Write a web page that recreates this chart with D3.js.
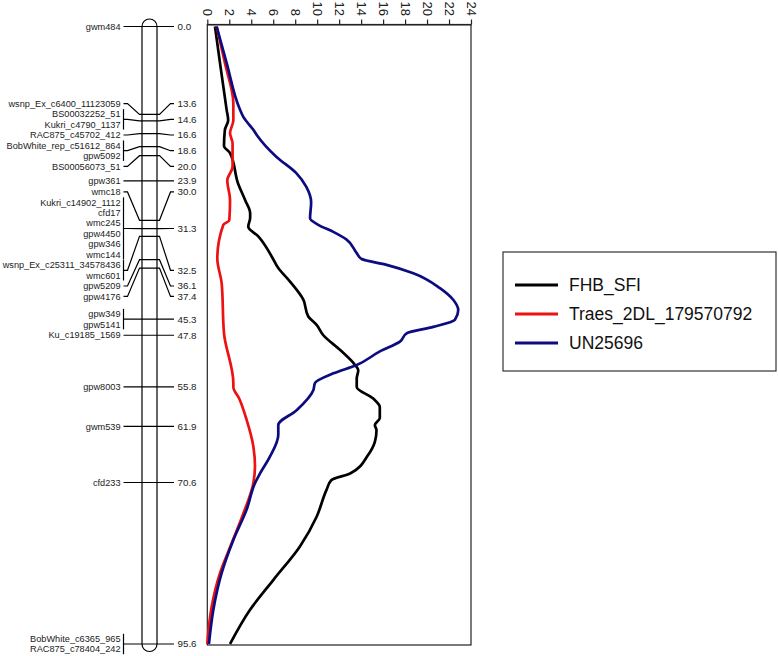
<!DOCTYPE html>
<html><head><meta charset="utf-8">
<script src="https://cdn.jsdelivr.net/npm/d3@7"></script>
<style>
body{margin:0;background:#fff}
text{font-family:"Liberation Sans",Arial,Helvetica,sans-serif}
</style>
</head><body>
<svg id="chart" width="778" height="656"></svg>
<script>
// ---------- DATA ----------
const markerPositions = [0.0, 13.6, 14.6, 16.6, 18.6, 20.0, 23.9, 30.0, 31.3, 32.5, 36.1, 37.4, 45.3, 47.8, 55.8, 61.9, 70.6, 95.6];
const markerPositionLabels = ["0.0","13.6","14.6","16.6","18.6","20.0","23.9","30.0","31.3","32.5","36.1","37.4","45.3","47.8","55.8","61.9","70.6","95.6"];
const markerNames = [
  ["gwm484"],
  ["wsnp_Ex_c6400_11123059"],
  ["BS00032252_51","Kukri_c4790_1137"],
  ["RAC875_c45702_412"],
  ["BobWhite_rep_c51612_864","gpw5092"],
  ["BS00056073_51"],
  ["gpw361"],
  ["wmc18"],
  ["Kukri_c14902_1112","cfd17","wmc245","gpw4450","gpw346","wmc144"],
  ["wsnp_Ex_c25311_34578436","wmc601"],
  ["gpw5209"],
  ["gpw4176"],
  ["gpw349","gpw5141"],
  ["Ku_c19185_1569"],
  ["gpw8003"],
  ["gwm539"],
  ["cfd233"],
  ["BobWhite_c6365_965","RAC875_c78404_242"]
];
const lodTicks = [0,2,4,6,8,10,12,14,16,18,20,22,24];
const seriesNames = ["FHB_SFI","Traes_2DL_179570792","UN25696"];
// [cM, LOD]
const fhbSFI = [[0,0.7],[5.7,1.16],[12.9,1.76],[14.5,1.9],[16,1.6],[18.5,1.52],[19.6,2.07],[24.3,2.8],[26.9,3.45],[28.9,3.9],[29.6,3.9],[31,3.73],[32.5,4.64],[35.6,5.86],[37.4,6.46],[39.5,7.53],[42.3,8.74],[44.9,9.19],[46.2,9.95],[47.8,10.56],[50.1,12.1],[52.4,13.44],[53.2,13.74],[54.5,13.6],[55.8,13.6],[57.6,15.1],[58.9,15.7],[60.6,15.7],[61.7,15.25],[62.5,15.4],[64.3,15.25],[66.3,14.65],[69.2,13.0],[70.2,11.3],[71.7,10.86],[75.9,9.95],[80.5,8.43],[85.7,6.0],[90.3,3.89],[95.6,2.07]];
const traes2DL = [[0,0.85],[5.7,1.61],[11.9,2.37],[14.5,2.37],[16.5,2.07],[18.1,2.3],[21.7,2.3],[23.8,1.82],[26.9,2.07],[30,2.0],[30.7,1.46],[35.9,0.91],[39.8,1.31],[47.5,1.52],[55.2,2.37],[55.8,2.37],[57.6,2.9],[60.9,3.58],[65,4.19],[68.1,4.34],[70.7,4.19],[75.4,3.28],[80,2.22],[84.6,1.16],[89.8,0.4],[95.6,0.0]];
const un25696 = [[0,0.85],[5.7,1.77],[12.9,2.98],[14,3.28],[16,4.19],[16.8,4.5],[20.2,6.3],[22.7,8.1],[24.8,9.0],[27.2,9.45],[29.7,9.35],[30.7,10.1],[31.8,11.47],[33,12.68],[35.1,13.6],[36,14.05],[36.9,16.32],[38.2,18.75],[40.5,21.17],[42.3,22.38],[43.9,22.84],[45.4,22.54],[46.5,20.57],[47.5,18.14],[48.8,17.53],[50.3,15.71],[52.4,13.6],[53.7,11.47],[55.2,9.8],[56.3,9.65],[59.4,8.13],[61.7,6.46],[63.2,6.46],[66.6,5.7],[69.2,4.8],[70.7,4.34],[74.8,3.58],[79.5,2.37],[84.6,1.31],[90.3,0.55],[95.6,0.15]];
const seriesColors = ["#000000","#ee1111","#0c0c80"];

// ---------- LAYOUT ----------
const svg = d3.select("#chart");
const y = d3.scaleLinear().domain([0, 95.6]).range([26.5, 644]);
const x = d3.scaleLinear().domain([0, 24]).range([207.3, 471]);

const GAP = 10.45;
// label collision layout (cluster merging, centred on extent of targets)
let blocks = markerPositions.map((p,i)=>({groups:[i], n:markerNames[i].length, lo:y(p), hi:y(p)}));
function place(b){ const c=(b.lo+b.hi)/2; b.top=c-(b.n-1)*GAP/2; b.bottom=c+(b.n-1)*GAP/2; }
blocks.forEach(place);
let changed = true;
while(changed){
  changed=false;
  const nb=[]; let cur=null;
  blocks.forEach(b=>{
    if(cur && b.top < cur.bottom + GAP - 0.001){
      cur.groups=cur.groups.concat(b.groups); cur.n+=b.n; cur.hi=b.hi;
      cur.bottom=Math.max(cur.bottom,b.bottom); changed=true;
    } else { cur={...b, groups:b.groups.slice()}; nb.push(cur); }
  });
  nb.forEach(place);
  blocks=nb;
}
const labelY = markerNames.map(n=>[]);
blocks.forEach(b=>{
  let k=0;
  b.groups.forEach(g=>{ markerNames[g].forEach(()=>{ labelY[g].push(b.top+k*GAP); k++; }); });
});
const groupCenter = labelY.map(a=>(a[0]+a[a.length-1])/2);

// ---------- CHROMOSOME ----------
const chrL=142, chrR=157;
const g = svg.append("g");
g.append("rect").attr("x",chrL).attr("y",y(0)-7.5).attr("width",chrR-chrL)
 .attr("height",y(95.6)-y(0)+15).attr("rx",7.5).attr("ry",7.5)
 .attr("fill","#fff").attr("stroke","#000").attr("stroke-width",1.2);

markerPositions.forEach((p,i)=>{
  const py=y(p), cy=groupCenter[i];
  g.append("path")
   .attr("d",`M123.5,${cy}H127.5L139.5,${py}H159.5L170.5,${cy}H174`)
   .attr("fill","none").attr("stroke","#000").attr("stroke-width",1.2);
  if(markerNames[i].length>1){
    const ys=labelY[i];
    g.append("line").attr("x1",123.5).attr("x2",123.5)
     .attr("y1",ys[0]-5).attr("y2",ys[ys.length-1]+5)
     .attr("stroke","#000").attr("stroke-width",1.2);
  }
  markerNames[i].forEach((nm,k)=>{
    g.append("text").attr("x",120.5).attr("y",labelY[i][k]).attr("dy","0.35em")
     .attr("text-anchor","end").attr("font-size","9.2px").attr("fill","#222").text(nm);
  });
  g.append("text").attr("x",177.5).attr("y",cy).attr("dy","0.35em")
   .attr("font-size","9.8px").attr("fill","#222").text(markerPositionLabels[i]);
});

// ---------- PLOT ----------
const top0=24.5, bot0=645;
svg.append("rect").attr("x",x(0)).attr("y",top0).attr("width",x(24)-x(0)).attr("height",bot0-top0)
 .attr("fill","none").attr("stroke","#222").attr("stroke-width",1.2);

const ax = svg.append("g").attr("transform",`translate(0,${top0})`)
 .call(d3.axisTop(x).tickValues(lodTicks).tickSize(5).tickSizeOuter(0).tickFormat(d3.format("d")));
ax.select(".domain").attr("stroke","#222").attr("stroke-width",1.2);
ax.selectAll(".tick line").attr("stroke","#222").attr("stroke-width",1.2);
ax.selectAll(".tick text")
 .attr("font-size","13px").attr("fill","#222")
 .attr("font-family","'Liberation Sans',Arial,sans-serif")
 .attr("text-anchor","end").attr("x",0).attr("y",0).attr("dy","0.35em")
 .attr("transform","translate(0,-8.5) rotate(90)");

const line = d3.line().x(d=>x(d[1])).y(d=>y(d[0])).curve(d3.curveMonotoneY);
[fhbSFI, traes2DL, un25696].forEach((s,i)=>{
  svg.append("path").datum(s).attr("d",line).attr("fill","none")
   .attr("stroke",seriesColors[i]).attr("stroke-width",2.7).attr("stroke-linejoin","round");
});

// ---------- LEGEND ----------
const lg = svg.append("g");
lg.append("rect").attr("x",503).attr("y",252).attr("width",273).attr("height",119)
 .attr("fill","#fff").attr("stroke","#333").attr("stroke-width",1.2);
seriesNames.forEach((nm,i)=>{
  const yy = 285 + i*29;
  lg.append("line").attr("x1",515).attr("x2",558).attr("y1",yy).attr("y2",yy)
   .attr("stroke",seriesColors[i]).attr("stroke-width",3);
  lg.append("text").attr("x",569).attr("y",yy).attr("dy","0.35em")
   .attr("font-size","17.5px").attr("fill","#111").text(nm);
});
</script>
</body></html>
